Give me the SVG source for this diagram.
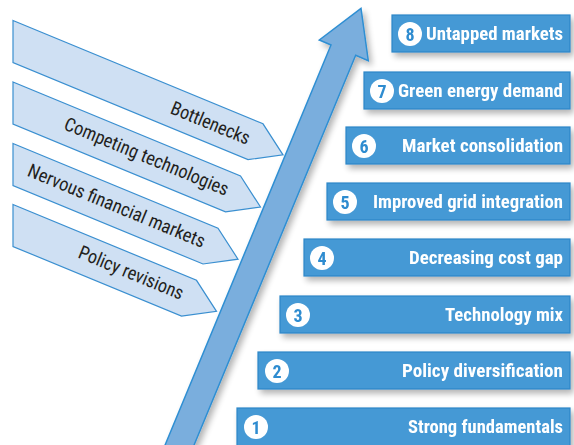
<svg xmlns="http://www.w3.org/2000/svg" width="574" height="445" viewBox="0 0 574 445">
  <style>
    .banner { fill: #cfe0f3; stroke: #3a8fd0; stroke-width: 1.2; stroke-linejoin: miter; }
    .btxt { font-family: "Liberation Sans Narrow", "Roboto Condensed", "Liberation Sans", sans-serif; font-size: 19px; fill: #231f20; }
    .box { fill: #4499d5; stroke: #2d86c8; stroke-width: 1.2; }
    .num-bg { fill: #ffffff; }
    .num { font-family: "Liberation Sans Narrow", "Roboto Condensed", "Liberation Sans", sans-serif; font-size: 18px; font-weight: bold; fill: #2f8cd0; text-anchor: middle; }
    .label { font-family: "Liberation Sans Narrow", "Roboto Condensed", "Liberation Sans", sans-serif; font-size: 18.5px; font-weight: bold; fill: #ffffff; text-anchor: end; }
    .arrow { fill: #7aaedd; stroke: #2f8fd3; stroke-width: 1.5; stroke-linejoin: miter; }
  </style>
  <defs>
    <filter id="shadow" x="-10%" y="-20%" width="130%" height="160%">
      <feGaussianBlur in="SourceAlpha" stdDeviation="3"/>
      <feOffset dx="3" dy="4" result="blur"/>
      <feComponentTransfer><feFuncA type="linear" slope="0.3"/></feComponentTransfer>
      <feMerge><feMergeNode/><feMergeNode in="SourceGraphic"/></feMerge>
    </filter>
  </defs>

  <rect width="574" height="445" fill="#ffffff"/>

  <!-- Headwinds: banners perpendicular to the growth arrow -->
  <g id="banner-bottlenecks">
    <polygon class="banner" points="13,20.5 263,123.8 283,154.8 248,159.6 13,62.5"/>
    <text class="btxt" x="169.3" y="113" textLength="84" lengthAdjust="spacingAndGlyphs" transform="rotate(22.4 169.3 113)">Bottlenecks</text>
  </g>
  <g id="banner-competing">
    <polygon class="banner" points="13,82 240.5,176 260.5,207 225.5,211.8 13,124"/>
    <text class="btxt" x="62.8" y="128.9" textLength="176" lengthAdjust="spacingAndGlyphs" transform="rotate(22.4 62.8 128.9)">Competing technologies</text>
  </g>
  <g id="banner-financial">
    <polygon class="banner" points="13,143.5 218,228.2 238,259.2 203,264 13,185.5"/>
    <text class="btxt" x="26.3" y="175.6" textLength="190" lengthAdjust="spacingAndGlyphs" transform="rotate(22.4 26.3 175.6)">Nervous financial markets</text>
  </g>
  <g id="banner-policy">
    <polygon class="banner" points="13,204.5 196.5,280.3 216.5,311.3 181.5,316.1 13,246.5"/>
    <text class="btxt" x="77" y="257.3" textLength="112" lengthAdjust="spacingAndGlyphs" transform="rotate(22.4 77 257.3)">Policy revisions</text>
  </g>

  <!-- Growth arrow -->
  <g id="connectors">
    <polygon class="arrow" filter="url(#shadow)" points="163,450 331,45 319.3,40 361,8.3 368.3,60.7 355.7,55.3 192,450"/>
  </g>

  <!-- Drivers, numbered bottom to top -->
  <g id="driver-8" filter="url(#shadow)">
    <rect class="box" x="392" y="15" width="178" height="37"/>
    <circle class="num-bg" cx="410" cy="34" r="12"/>
    <text class="num" x="410" y="40.5">8</text>
    <text class="label" x="563" y="40" textLength="137" lengthAdjust="spacingAndGlyphs">Untapped markets</text>
  </g>
  <g id="driver-7" filter="url(#shadow)">
    <rect class="box" x="364" y="72" width="206" height="37"/>
    <circle class="num-bg" cx="382" cy="91" r="12"/>
    <text class="num" x="382" y="97.5">7</text>
    <text class="label" x="563" y="97" textLength="165" lengthAdjust="spacingAndGlyphs">Green energy demand</text>
  </g>
  <g id="driver-6" filter="url(#shadow)">
    <rect class="box" x="346" y="127" width="224" height="37"/>
    <circle class="num-bg" cx="364" cy="146" r="12"/>
    <text class="num" x="364" y="152.5">6</text>
    <text class="label" x="563" y="152" textLength="161" lengthAdjust="spacingAndGlyphs">Market consolidation</text>
  </g>
  <g id="driver-5" filter="url(#shadow)">
    <rect class="box" x="327" y="183" width="243" height="37"/>
    <circle class="num-bg" cx="345" cy="202" r="12"/>
    <text class="num" x="345" y="208.5">5</text>
    <text class="label" x="563" y="208" textLength="190" lengthAdjust="spacingAndGlyphs">Improved grid integration</text>
  </g>
  <g id="driver-4" filter="url(#shadow)">
    <rect class="box" x="304" y="239" width="266" height="37"/>
    <circle class="num-bg" cx="322" cy="258" r="12"/>
    <text class="num" x="322" y="264.5">4</text>
    <text class="label" x="563" y="264" textLength="154" lengthAdjust="spacingAndGlyphs">Decreasing cost gap</text>
  </g>
  <g id="driver-3" filter="url(#shadow)">
    <rect class="box" x="280" y="296" width="290" height="37"/>
    <circle class="num-bg" cx="298" cy="315" r="12"/>
    <text class="num" x="298" y="321.5">3</text>
    <text class="label" x="563" y="321" textLength="118" lengthAdjust="spacingAndGlyphs">Technology mix</text>
  </g>
  <g id="driver-2" filter="url(#shadow)">
    <rect class="box" x="258" y="352" width="312" height="37"/>
    <circle class="num-bg" cx="277" cy="371" r="12"/>
    <text class="num" x="277" y="377.5">2</text>
    <text class="label" x="563" y="377" textLength="161" lengthAdjust="spacingAndGlyphs">Policy diversification</text>
  </g>
  <g id="driver-1" filter="url(#shadow)">
    <rect class="box" x="237" y="408" width="333" height="40"/>
    <circle class="num-bg" cx="256" cy="427" r="12"/>
    <text class="num" x="256" y="433.5">1</text>
    <text class="label" x="563" y="433" textLength="155" lengthAdjust="spacingAndGlyphs">Strong fundamentals</text>
  </g>
</svg>
